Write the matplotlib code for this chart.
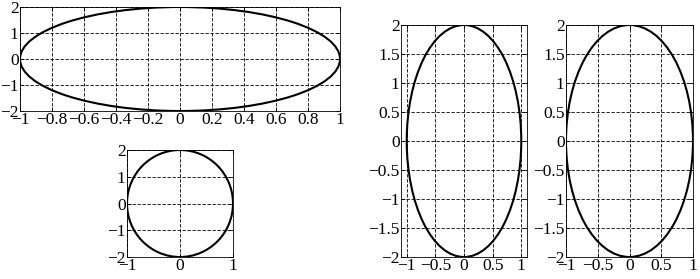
import matplotlib

matplotlib.use("Agg")

import matplotlib.pyplot as plt
from matplotlib.patches import Ellipse

# ellipse: semi-axis along x and along y
SEMI_X = 1
SEMI_Y = 2

TOP_XTICKS = [-1, -0.8, -0.6, -0.4, -0.2, 0, 0.2, 0.4, 0.6, 0.8, 1]
TOP_YTICKS = [-2, -1, 0, 1, 2]
SMALL_XTICKS = [-1, 0, 1]
SMALL_YTICKS = [-2, -1, 0, 1, 2]
TALL_XTICKS = [-1, -0.5, 0, 0.5, 1]
TALL_YTICKS = [-2, -1.5, -1, -0.5, 0, 0.5, 1, 1.5, 2]

plt.rcParams["font.family"] = ["Liberation Serif", "DejaVu Serif"]
plt.rcParams["axes.unicode_minus"] = True

W, H = 700, 279
fig = plt.figure(figsize=(W / 100, H / 100), dpi=100)


def add_axes(left, top, right, bottom):
    return fig.add_axes([left / W, 1 - bottom / H, (right - left) / W, (bottom - top) / H])


def fmt(v):
    s = f"{v:g}"
    return s.replace("-", "\u2212")


def draw(ax, xlim, ylim, xticks, yticks):
    ax.add_patch(Ellipse((0, 0), 2 * SEMI_X, 2 * SEMI_Y, fill=False, color="black", lw=1.5))
    ax.set_xlim(xlim)
    ax.set_ylim(ylim)
    ax.set_xticks(xticks)
    ax.set_yticks(yticks)
    ax.set_xticklabels([fmt(v) for v in xticks])
    ax.set_yticklabels([fmt(v) for v in yticks])
    ax.grid(True, color="black", linestyle=(0, (4, 2)), linewidth=0.6)
    ax.tick_params(direction="in", length=3, width=0.6, pad=1, labelsize=12.5,
                   top=True, right=True)
    for sp in ax.spines.values():
        sp.set_linewidth(0.6)


ax1 = add_axes(20, 7, 340, 111)
draw(ax1, (-1, 1), (-2, 2), TOP_XTICKS, TOP_YTICKS)

ax2 = add_axes(127, 150, 233, 257)
draw(ax2, (-1, 1), (-2, 2), SMALL_XTICKS, SMALL_YTICKS)

ax3 = add_axes(401, 25, 527, 257)
draw(ax3, (-1.1, 1.1), (-2, 2), TALL_XTICKS, TALL_YTICKS)

ax4 = add_axes(566, 25, 693, 257)
draw(ax4, (-1, 1), (-2, 2), TALL_XTICKS, TALL_YTICKS)

fig.savefig("out.png", dpi=100)
